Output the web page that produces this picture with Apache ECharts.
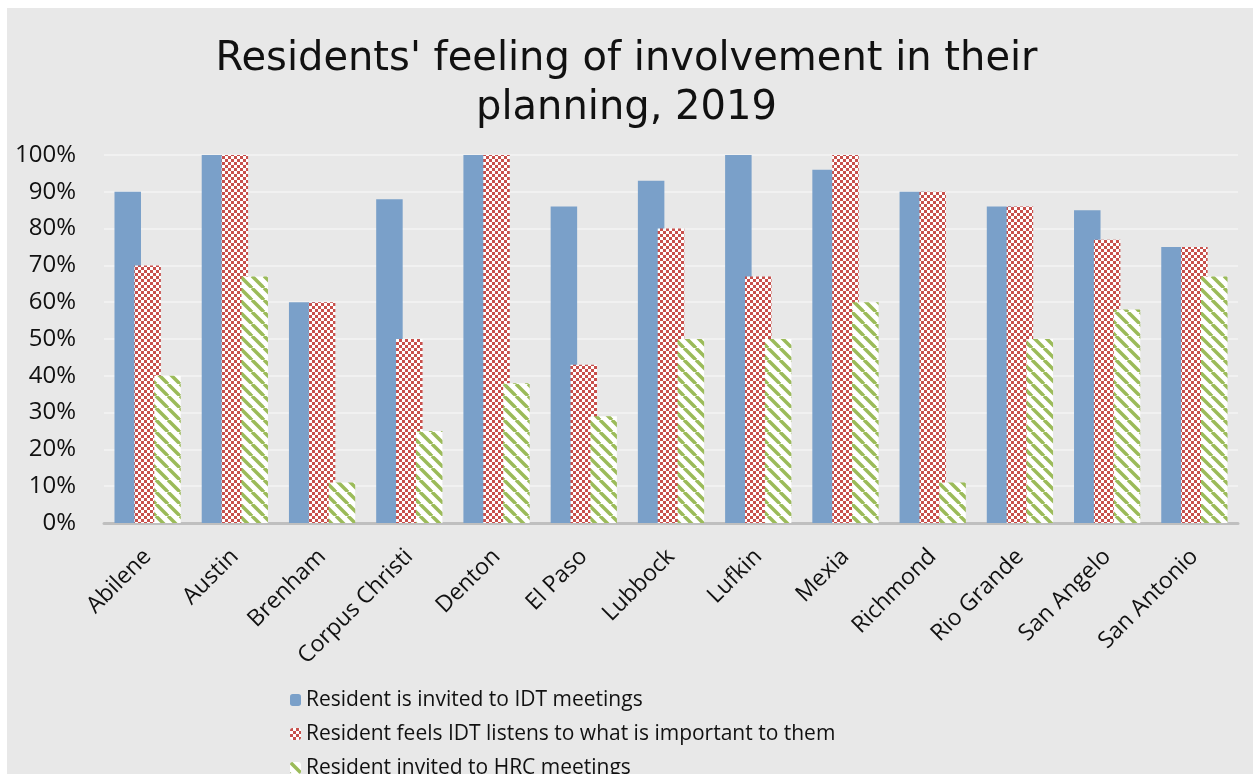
<!DOCTYPE html>
<html>
<head>
<meta charset="utf-8">
<script src="https://cdn.jsdelivr.net/npm/echarts@6/dist/echarts.min.js"></script>
<style>
  html, body { margin: 0; padding: 0; background: #fff; }
  #main { width: 1253px; height: 774px; }
</style>
</head>
<body>
<div id="main"></div>
<script>
// data
var cities = ['Abilene', 'Austin', 'Brenham', 'Corpus Christi', 'Denton', 'El Paso',
  'Lubbock', 'Lufkin', 'Mexia', 'Richmond', 'Rio Grande', 'San Angelo', 'San Antonio'];
var invitedIDT = [90, 100, 60, 88, 100, 86, 93, 100, 96, 90, 86, 85, 75];
var feelsListened = [70, 100, 60, 50, 100, 43, 80, 67, 100, 90, 86, 77, 75];
var invitedHRC = [40, 67, 11, 25, 38, 29, 50, 50, 60, 11, 50, 58, 67];
var seriesNames = ['Resident is invited to IDT meetings',
  'Resident feels IDT listens to what is important to them',
  'Resident invited to HRC meetings'];

// checkerboard pattern (red / white)
function checker() {
  var c = document.createElement('canvas');
  c.width = 6; c.height = 6;
  var g = c.getContext('2d');
  g.fillStyle = '#ffffff';
  g.fillRect(0, 0, 6, 6);
  g.fillStyle = '#c8504c';
  g.fillRect(0, 0, 3, 3);
  g.fillRect(3, 3, 3, 3);
  return c;
}
// downward diagonal stripes (green / white)
function stripes() {
  var c = document.createElement('canvas');
  c.width = 12; c.height = 12;
  var g = c.getContext('2d');
  g.fillStyle = '#ffffff';
  g.fillRect(0, 0, 12, 12);
  g.strokeStyle = '#9bbb59';
  g.lineWidth = 3.5;
  [-12, 0, 12].forEach(function (k) {
    g.beginPath();
    g.moveTo(k, 0);
    g.lineTo(k + 12, 12);
    g.stroke();
  });
  return c;
}

var myChart = echarts.init(document.getElementById('main'));
var font = "'Open Sans', 'Noto Sans', sans-serif";

var option = {
  backgroundColor: '#ffffff',
  animation: false,
  graphic: [{
    type: 'rect', z: -10, silent: true,
    shape: { x: 7, y: 8, width: 1253, height: 774 },
    style: { fill: '#e8e8e8' }
  }],
  title: {
    text: "Residents' feeling of involvement in their\nplanning, 2019",
    left: 'center',
    top: 30,
    textStyle: {
      fontFamily: "'DejaVu Sans', sans-serif",
      fontWeight: 'normal',
      fontSize: 40,
      lineHeight: 49,
      color: '#111'
    }
  },
  legend: {
    orient: 'vertical',
    left: 285,
    top: 684,
    height: 200,
    itemWidth: 11,
    itemHeight: 12,
    itemGap: 12,
    data: seriesNames,
    textStyle: { fontFamily: font, fontSize: 21, lineHeight: 22, color: '#111' }
  },
  grid: { left: 104, right: 15, top: 155, bottom: 251, containLabel: false },
  xAxis: {
    type: 'category',
    data: cities,
    axisLine: { lineStyle: { color: '#bfbfbf', width: 3 } },
    axisTick: { show: false },
    axisLabel: {
      rotate: 45,
      margin: 30,
      interval: 0,
      fontFamily: font,
      fontSize: 23,
      color: '#111'
    }
  },
  yAxis: {
    type: 'value',
    min: 0,
    max: 100,
    interval: 10,
    axisLine: { show: false },
    axisTick: { show: false },
    splitLine: { lineStyle: { color: '#f4f4f4', width: 1.5 } },
    axisLabel: {
      formatter: '{value}%',
      margin: 28,
      fontFamily: font,
      fontSize: 24,
      color: '#111'
    }
  },
  series: [{
    name: seriesNames[0],
    type: 'bar',
    data: invitedIDT,
    barWidth: 26.5,
    barGap: '-25%',
    itemStyle: { color: '#7aa0c9' }
  }, {
    name: seriesNames[1],
    type: 'bar',
    data: feelsListened,
    barWidth: 26.5,
    barGap: '-25%',
    itemStyle: { color: { image: checker(), repeat: 'repeat' } }
  }, {
    name: seriesNames[2],
    type: 'bar',
    data: invitedHRC,
    barWidth: 26.5,
    barGap: '-25%',
    itemStyle: { color: { image: stripes(), repeat: 'repeat' } }
  }]
};

myChart.setOption(option);
</script>
</body>
</html>
